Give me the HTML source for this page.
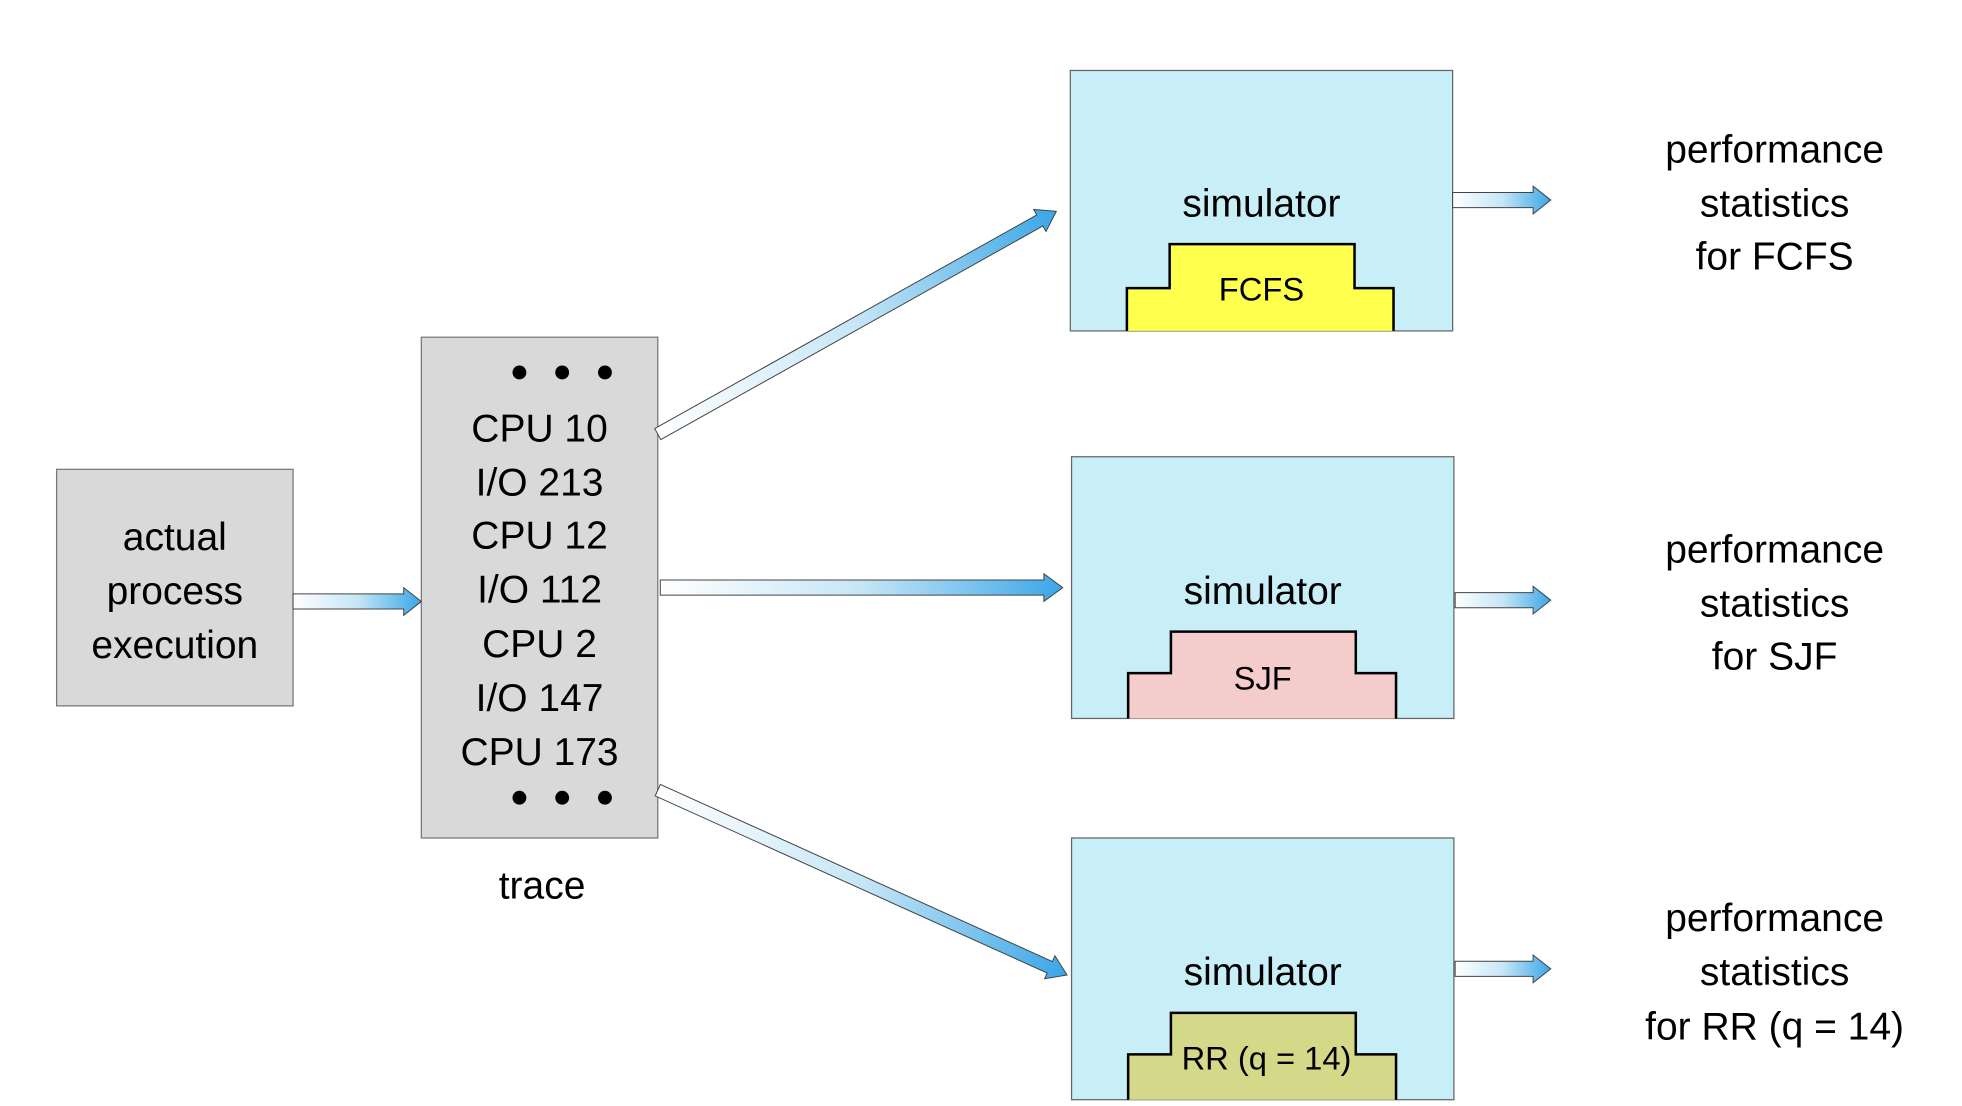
<!DOCTYPE html>
<html><head><meta charset="utf-8">
<style>
html,body{margin:0;padding:0;background:#fff;}
svg{display:block;}
text{font-family:"Liberation Sans",sans-serif;fill:#000;}
</style></head>
<body>
<svg width="1962" height="1106" viewBox="0 0 1560 879" preserveAspectRatio="none" xmlns="http://www.w3.org/2000/svg">
<defs>
<linearGradient id="g" x1="0" y1="0" x2="1" y2="0">
<stop offset="0" stop-color="#ffffff"/>
<stop offset="0.5" stop-color="#c6e6f6"/>
<stop offset="1" stop-color="#3aa6e8"/>
</linearGradient>
</defs>

<!-- actual process execution -->
<rect x="45" y="373" width="188" height="188" fill="#d9d9d9" stroke="#777" stroke-width="1"/>
<g font-size="31" text-anchor="middle">
<text x="139" y="437">actual</text>
<text x="139" y="480">process</text>
<text x="139" y="523">execution</text>
</g>

<!-- trace box -->
<rect x="335" y="268" width="188" height="398" fill="#d9d9d9" stroke="#777" stroke-width="1"/>
<g fill="#000">
<circle cx="413" cy="296" r="5.5"/><circle cx="447" cy="296" r="5.5"/><circle cx="481" cy="296" r="5.5"/>
<circle cx="413" cy="634" r="5.5"/><circle cx="447" cy="634" r="5.5"/><circle cx="481" cy="634" r="5.5"/>
</g>
<g font-size="31" text-anchor="middle">
<text x="429" y="351">CPU 10</text>
<text x="429" y="394">I/O 213</text>
<text x="429" y="436">CPU 12</text>
<text x="429" y="479">I/O 112</text>
<text x="429" y="522">CPU 2</text>
<text x="429" y="565">I/O 147</text>
<text x="429" y="608">CPU 173</text>
<text x="431" y="714">trace</text>
</g>

<!-- simulators -->
<rect x="851" y="56" width="304" height="207" fill="#c8eef8" stroke="#666" stroke-width="1"/>
<rect x="852" y="363" width="304" height="208" fill="#c8eef8" stroke="#666" stroke-width="1"/>
<rect x="852" y="666" width="304" height="208" fill="#c8eef8" stroke="#666" stroke-width="1"/>
<g font-size="31" text-anchor="middle">
<text x="1003" y="172">simulator</text>
<text x="1004" y="480">simulator</text>
<text x="1004" y="783">simulator</text>
</g>
<path d="M896 263 V229 H930 V194 H1077 V229 H1108 V263" fill="#ffff4d" stroke="#000" stroke-width="2"/>
<path d="M897 571 V535 H931 V502 H1078 V535 H1110 V571" fill="#f5cccc" stroke="#000" stroke-width="2"/>
<path d="M897 874 V838 H931 V805 H1078 V838 H1110 V874" fill="#d4d98a" stroke="#000" stroke-width="2"/>
<g font-size="26" text-anchor="middle">
<text x="1003" y="239">FCFS</text>
<text x="1004" y="548">SJF</text>
<text x="1007" y="850">RR (q = 14)</text>
</g>

<!-- performance text -->
<g font-size="31" text-anchor="middle">
<text x="1411" y="129">performance</text>
<text x="1411" y="172">statistics</text>
<text x="1411" y="214">for FCFS</text>
<text x="1411" y="447">performance</text>
<text x="1411" y="490">statistics</text>
<text x="1411" y="532">for SJF</text>
<text x="1411" y="740">performance</text>
<text x="1411" y="783">statistics</text>
<text x="1411" y="826">for RR (q = 14)</text>
</g>

<!-- arrows -->
<g stroke="#444" stroke-width="0.8">
<g transform="translate(233,478)"><polygon points="0,-6 88,-6 88,-11 102,0 88,11 88,6 0,6" fill="url(#g)"/></g>
<g transform="translate(525,467)"><polygon points="0,-6 305,-6 305,-11 320,0 305,11 305,6 0,6" fill="url(#g)"/></g>
<g transform="translate(523,345) rotate(-29.2)"><polygon points="0,-5 348,-5 348,-10 363,0 348,10 348,5 0,5" fill="url(#g)"/></g>
<g transform="translate(523,628) rotate(24.3)"><polygon points="0,-5 342,-5 342,-10 357,0 342,10 342,5 0,5" fill="url(#g)"/></g>
<g transform="translate(1155,159)"><polygon points="0,-6 64,-6 64,-11 78,0 64,11 64,6 0,6" fill="url(#g)"/></g>
<g transform="translate(1157,477)"><polygon points="0,-6 62,-6 62,-11 76,0 62,11 62,6 0,6" fill="url(#g)"/></g>
<g transform="translate(1157,770)"><polygon points="0,-6 62,-6 62,-11 76,0 62,11 62,6 0,6" fill="url(#g)"/></g>
</g>
</svg>
</body></html>
